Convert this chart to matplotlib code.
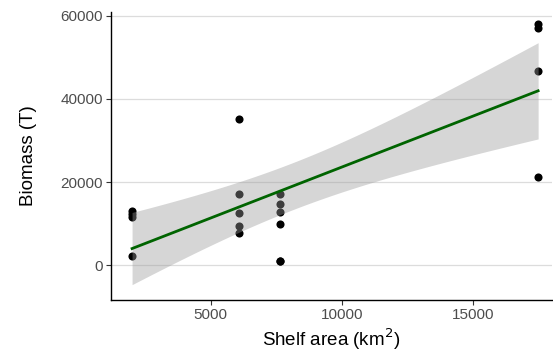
import numpy as np
import matplotlib
matplotlib.use("Agg")
import matplotlib.pyplot as plt

plt.rcParams['font.family'] = ['Liberation Sans', 'DejaVu Sans']

# shelf area (km2) and biomass (T)
shelf_area = [2000, 2000, 2000, 2000,
              6080, 6080, 6080, 6080, 6080,
              7650, 7650, 7650, 7650, 7650, 7650,
              17500, 17500, 17500, 17500]
biomass = [12900, 12300, 11600, 2250,
           35200, 17000, 12500, 9400, 7800,
           17000, 14700, 12700, 9950, 1050, 1050,
           58100, 57000, 46700, 21300]

x = np.array(shelf_area, dtype=float)
y = np.array(biomass, dtype=float)

# linear fit with 95% confidence band (like geom_smooth(method="lm"))
n = len(x)
b1, b0 = np.polyfit(x, y, 1)
xs = np.linspace(x.min(), x.max(), 100)
ys = b0 + b1 * xs
resid = y - (b0 + b1 * x)
s = np.sqrt(np.sum(resid ** 2) / (n - 2))
se = s * np.sqrt(1.0 / n + (xs - x.mean()) ** 2 / np.sum((x - x.mean()) ** 2))
tval = 2.1098  # t(0.975, df=17)

fig = plt.figure(figsize=(5.53, 3.56), dpi=100)
ax = fig.add_axes([0.2007, 0.1573, 0.7975, 0.809])

ax.scatter(x, y, s=34, color='black', zorder=2, linewidths=0)
ax.fill_between(xs, ys - tval * se, ys + tval * se, color='#999999', alpha=0.4,
                linewidth=0, zorder=3)
ax.plot(xs, ys, color='#006400', lw=2, zorder=4)

ax.set_xlim(1195, 18030)
ax.set_ylim(-8430, 60960)
ax.set_xticks([5000, 10000, 15000])
ax.set_yticks([0, 20000, 40000, 60000])
ax.yaxis.grid(True, color='#DCDCDC', lw=0.9, zorder=0)
ax.set_axisbelow(True)

for side in ['top', 'right']:
    ax.spines[side].set_visible(False)
for side in ['left', 'bottom']:
    ax.spines[side].set_linewidth(1.0)
ax.tick_params(axis='both', labelsize=11, colors='#333333', labelcolor='#4D4D4D',
               length=3.5, width=0.8, pad=2.5)

ax.set_xlabel('Shelf area (km$^2$)', fontsize=13.5, labelpad=3)
ax.set_ylabel('Biomass (T)', fontsize=13.5, labelpad=17)

fig.savefig('out.png', dpi=100)
